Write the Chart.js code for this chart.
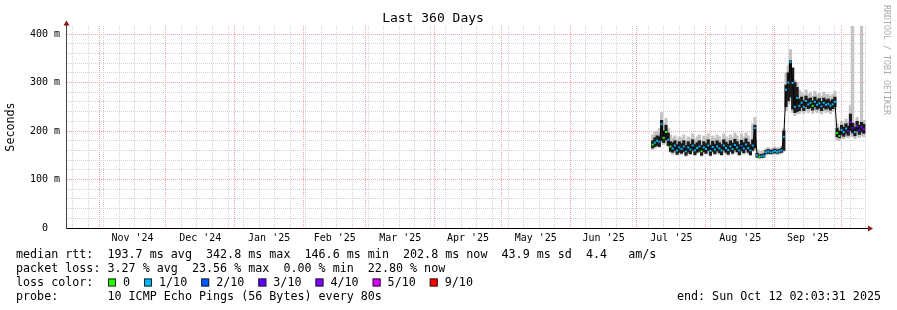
<!DOCTYPE html>
<html lang="en">
<head>
    <meta charset="UTF-8">
    <title>Last 360 Days</title>
    <script src="https://cdn.jsdelivr.net/npm/chart.js"></script>
    <style>
        html, body { margin: 0; padding: 0; background: #fff; }
        #wrap { width: 897px; height: 310px; position: relative; }
    </style>
</head>
<body>
<div id="wrap"><canvas id="rttChart"></canvas></div>

<script>
    // one sample per day, day 0 = Thu Oct 17 2024 02:03:31, values in ms
    const firstDay = 264;
    const medianRtt = [
        172, 176, 180, 178, 214, 186, 198, 182, 168, 164,
        170, 160, 166, 163, 168, 158, 166, 162, 170, 160,
        165, 168, 158, 166, 163, 170, 159, 167, 162, 168,
        164, 160, 170, 165, 161, 168, 163, 171, 166, 160,
        169, 164, 172, 165, 160, 170, 206, 150, 147, 148,
        149, 156, 158, 156, 157, 159, 157, 158, 160, 188,
        285, 300, 342, 299, 250, 268, 252, 258, 250, 262,
        255, 258, 252, 260, 254, 257, 251, 258, 254, 256,
        252, 255, 260, 196, 190, 202, 198, 205, 200, 218,
        206, 198, 210, 202, 208, 204
    ];
    // full spread of the pings (light smoke)
    const smokeMax = [
        192, 198, 200, 205, 238, 215, 226, 206, 192, 186,
        190, 182, 188, 186, 192, 180, 188, 185, 194, 182,
        188, 192, 180, 190, 186, 194, 182, 190, 185, 192,
        188, 182, 194, 188, 184, 192, 186, 196, 190, 182,
        194, 188, 196, 190, 182, 215, 228, 162, 158, 158,
        160, 164, 166, 164, 165, 167, 165, 166, 168, 205,
        320, 335, 368, 330, 305, 300, 285, 280, 275, 285,
        276, 280, 272, 282, 275, 278, 272, 280, 275, 276,
        272, 276, 282, 215, 208, 220, 215, 225, 218, 252,
        430, 218, 228, 220, 430, 222
    ];
    const smokeMin = [
        162, 165, 168, 166, 176, 172, 180, 168, 156, 152,
        156, 150, 154, 152, 156, 148, 154, 151, 157, 150,
        154, 156, 148, 154, 152, 157, 148, 155, 151, 156,
        152, 150, 157, 153, 150, 156, 152, 158, 154, 149,
        156, 152, 158, 153, 149, 158, 160, 145, 143, 144,
        145, 150, 152, 151, 152, 153, 151, 152, 154, 158,
        242, 255, 262, 238, 232, 236, 236, 240, 236, 242,
        238, 242, 236, 243, 238, 240, 235, 242, 238, 240,
        236, 240, 244, 182, 180, 186, 184, 188, 186, 190,
        188, 184, 190, 186, 190, 188
    ];
    // dense middle of the pings (dark smoke)
    const coreHi = [
        180, 186, 190, 188, 222, 200, 212, 196, 178, 176,
        180, 172, 178, 174, 180, 170, 178, 173, 182, 172,
        176, 180, 170, 178, 174, 182, 171, 179, 173, 180,
        176, 172, 182, 177, 173, 180, 175, 183, 178, 172,
        181, 176, 184, 177, 172, 182, 212, 154, 151, 152,
        153, 160, 162, 160, 161, 163, 161, 162, 164, 200,
        295, 320, 345, 330, 300, 290, 266, 270, 262, 272,
        266, 268, 262, 270, 264, 267, 261, 268, 264, 266,
        262, 265, 270, 205, 200, 212, 208, 215, 210, 235,
        216, 208, 220, 212, 218, 214
    ];
    const coreLo = [
        165, 168, 170, 168, 180, 176, 182, 170, 158, 156,
        160, 152, 156, 154, 158, 150, 156, 153, 160, 151,
        156, 158, 150, 157, 154, 160, 150, 158, 153, 159,
        155, 151, 160, 156, 152, 158, 154, 161, 157, 151,
        159, 155, 162, 156, 151, 160, 165, 146, 145, 145,
        146, 153, 154, 153, 154, 155, 154, 155, 156, 160,
        250, 262, 270, 245, 238, 240, 242, 248, 242, 250,
        246, 248, 243, 250, 245, 247, 242, 248, 245, 247,
        243, 246, 250, 188, 186, 192, 189, 195, 191, 200,
        196, 190, 200, 193, 198, 195
    ];
    // index into lossColors
    const lossLevel = [
        0, 1, 1, 1, 1, 0, 0, 1, 0, 1,
        1, 1, 1, 1, 1, 1, 1, 1, 1, 1,
        1, 1, 0, 1, 1, 1, 1, 1, 1, 1,
        1, 1, 1, 1, 1, 1, 1, 1, 1, 1,
        2, 1, 1, 1, 1, 1, 1, 1, 0, 1,
        1, 1, 1, 1, 1, 1, 1, 1, 1, 1,
        1, 1, 1, 1, 1, 1, 1, 1, 1, 1,
        1, 1, 0, 1, 1, 1, 1, 1, 1, 1,
        1, 1, 1, 0, 0, 1, 1, 1, 3, 4,
        3, 1, 4, 3, 3, 4
    ];
    const lossLabels = ['0', '1/10', '2/10', '3/10', '4/10', '5/10', '9/10'];
    const lossColors = ['#26ff00', '#00b8ff', '#0059ff', '#5e00ff', '#7e00ff', '#dd00ff', '#ff0000'];
    const monthLabels = ["Nov '24", "Dec '24", "Jan '25", "Feb '25", "Mar '25", "Apr '25",
        "May '25", "Jun '25", "Jul '25", "Aug '25", "Sep '25"];
    const yMajor = [0, 100, 200, 300, 400];
    const yTickLabels = ['0  ', '100 m', '200 m', '300 m', '400 m'];

    const rttText = 'median rtt:  193.7 ms avg  342.8 ms max  146.6 ms min  202.8 ms now  43.9 ms sd  4.4   am/s';
    const lossText = 'packet loss: 3.27 % avg  23.56 % max  0.00 % min  22.80 % now';
    const probeText = 'probe:       10 ICMP Echo Pings (56 Bytes) every 80s';
    const endText = 'end: Sun Oct 12 02:03:31 2025';

    const MONO = '"DejaVu Sans Mono", monospace';

    // time axis helpers (days since start)
    const startMs = Date.UTC(2024, 9, 17, 2, 3, 31);
    const dayOf = (y, m, d) => (Date.UTC(y, m, d) - startMs) / 864e5;
    const monthStarts = [];
    for (let i = 0; i < 12; i++) monthStarts.push(dayOf(2024, 10 + i, 1));
    const xTickInfo = [];
    for (let d = dayOf(2024, 9, 20); d < 360; d += 7) xTickInfo.push({v: d, kind: 'week', label: ''});
    monthStarts.forEach(d => xTickInfo.push({v: d, kind: 'month', label: ''}));
    monthLabels.forEach((l, i) => xTickInfo.push({v: (monthStarts[i] + monthStarts[i + 1]) / 2, kind: 'label', label: l}));
    xTickInfo.sort((a, b) => a.v - b.v);

    const yTickValues = [];
    for (let v = 0; v <= 400; v += 20) yTickValues.push(v);

    const smokeData = smokeMin.map((lo, i) => ({x: firstDay + i, y: [lo, smokeMax[i]]}));
    const coreData = coreLo.map((lo, i) => ({x: firstDay + i, y: [lo, coreHi[i]]}));
    const medianData = medianRtt.map((v, i) => ({x: firstDay + i, y: v}));

    const rrdText = {
        id: 'rrdText',
        afterDraw(chart) {
            const ctx = chart.ctx;
            const a = chart.chartArea;
            ctx.save();
            // axis extensions + arrows
            ctx.strokeStyle = '#444';
            ctx.lineWidth = 1;
            ctx.beginPath();
            ctx.moveTo(a.left + 0.5, a.top);
            ctx.lineTo(a.left + 0.5, a.top - 3);
            ctx.stroke();
            ctx.strokeStyle = '#000';
            ctx.beginPath();
            ctx.moveTo(a.right, a.bottom + 0.5);
            ctx.lineTo(a.right + 3, a.bottom + 0.5);
            ctx.stroke();
            ctx.fillStyle = '#8b1a1a';
            ctx.beginPath();
            ctx.moveTo(a.left - 2.5, a.top - 0.5);
            ctx.lineTo(a.left + 3.5, a.top - 0.5);
            ctx.lineTo(a.left + 0.5, a.top - 5.5);
            ctx.closePath();
            ctx.fill();
            ctx.beginPath();
            ctx.moveTo(a.right + 2, a.bottom - 2.5);
            ctx.lineTo(a.right + 2, a.bottom + 3.5);
            ctx.lineTo(a.right + 7, a.bottom + 0.5);
            ctx.closePath();
            ctx.fill();

            // legend block
            ctx.font = '11.7px ' + MONO;
            ctx.textBaseline = 'middle';
            ctx.textAlign = 'left';
            ctx.fillStyle = '#000';
            ctx.fillText(rttText, 16, 254.5);
            ctx.fillText(lossText, 16, 268.5);
            ctx.fillText('loss color:', 16, 282.5);
            ctx.fillText(probeText, 16, 296.5);
            ctx.textAlign = 'right';
            ctx.fillText(endText, 881, 296.5);
            ctx.textAlign = 'left';
            let x = 108;
            lossLabels.forEach((lab, i) => {
                ctx.fillStyle = lossColors[i];
                ctx.fillRect(x, 278.5, 8, 8);
                ctx.strokeStyle = '#222';
                ctx.strokeRect(x + 0.5, 279, 7, 7);
                ctx.fillStyle = '#000';
                ctx.fillText(lab, x + 15, 282.5);
                x += 15 + ctx.measureText(lab).width + 14;
            });

            // watermark
            ctx.translate(886, 5);
            ctx.rotate(Math.PI / 2);
            ctx.font = '8.3px ' + MONO;
            ctx.fillStyle = '#aaa';
            ctx.fillText('RRDTOOL / TOBI OETIKER', 0, 0);
            ctx.restore();
        }
    };

    new Chart(document.getElementById('rttChart'), {
        type: 'bar',
        data: {
            datasets: [
                {
                    type: 'scatter',
                    data: medianData,
                    order: 0,
                    pointStyle: 'rect',
                    pointRadius: 1.4,
                    pointBorderWidth: 0,
                    pointBackgroundColor: lossLevel.map(l => lossColors[l]),
                    showLine: false
                },
                {
                    type: 'line',
                    data: medianData,
                    order: 1,
                    borderColor: '#000',
                    borderWidth: 1,
                    pointRadius: 0,
                    tension: 0
                },
                {
                    type: 'bar',
                    data: coreData,
                    order: 2,
                    backgroundColor: '#1c1c1c',
                    borderWidth: 0,
                    barThickness: 2.5,
                    grouped: false
                },
                {
                    type: 'bar',
                    data: smokeData,
                    order: 3,
                    backgroundColor: '#c4c4c4',
                    borderWidth: 0,
                    barThickness: 2.5,
                    grouped: false
                }
            ]
        },
        options: {
            responsive: true,
            maintainAspectRatio: false,
            animation: false,
            events: [],
            layout: {padding: {left: 0, right: 31, top: 0, bottom: 62}},
            plugins: {
                legend: {display: false},
                tooltip: {enabled: false},
                title: {
                    display: true,
                    text: 'Last 360 Days',
                    color: '#000',
                    font: {family: MONO, size: 13, weight: 'normal', lineHeight: 1},
                    padding: {top: 12, bottom: 1}
                }
            },
            scales: {
                x: {
                    type: 'linear',
                    min: 0,
                    max: 360,
                    offset: false,
                    afterBuildTicks: scale => { scale.ticks = xTickInfo.map(t => ({value: t.v})); },
                    afterFit: scale => { scale.height = 20; },
                    ticks: {
                        autoSkip: false,
                        maxRotation: 0,
                        padding: 4,
                        color: '#000',
                        font: {family: MONO, size: 10},
                        callback: (v, i) => xTickInfo[i] ? xTickInfo[i].label : ''
                    },
                    grid: {
                        offset: false,
                        drawTicks: false,
                        color: c => {
                            const t = xTickInfo[c.index];
                            if (!t || t.kind === 'label') return 'rgba(0,0,0,0)';
                            return t.kind === 'month' ? '#f2a2a2' : '#d2d2d2';
                        }
                    },
                    border: {display: true, color: '#000', width: 1, dash: [1, 1]}
                },
                y: {
                    min: 0,
                    max: 416.5,
                    afterBuildTicks: scale => { scale.ticks = yTickValues.map(v => ({value: v})); },
                    afterFit: scale => { scale.width = 66; },
                    ticks: {
                        autoSkip: false,
                        padding: 6,
                        color: '#000',
                        font: {family: MONO, size: 10},
                        callback: v => {
                            const k = yMajor.indexOf(v);
                            return k >= 0 ? yTickLabels[k] : '';
                        }
                    },
                    grid: {
                        drawTicks: false,
                        color: c => (c.tick && c.tick.value % 100 === 0) ? '#f2a2a2' : '#d2d2d2'
                    },
                    border: {display: true, color: '#444', width: 1, dash: [1, 1]},
                    title: {
                        display: true,
                        text: 'Seconds',
                        color: '#000',
                        font: {family: MONO, size: 11.7},
                        padding: {top: 4, bottom: 0}
                    }
                }
            }
        },
        plugins: [rrdText]
    });
</script>
</body>
</html>
